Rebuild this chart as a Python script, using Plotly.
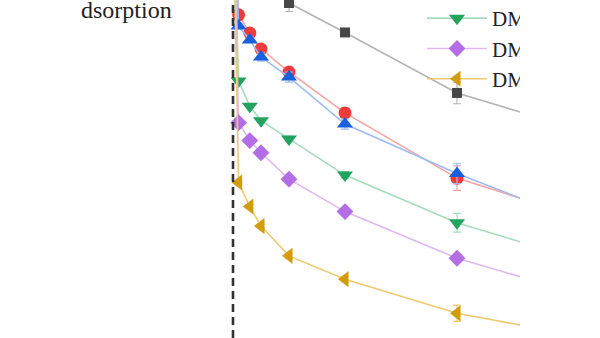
import plotly.graph_objects as go

# Desorption time (h); t = 0 marks the switch from adsorption to desorption
time_h = [0, 0.1, 0.3, 0.5, 1, 2, 4, 6]

series_names = ["DM", "DM", "DM", "DM", "DM", "DM"]

black_vals = [130, 115, 110, 106, 99.1, 90.4, 72.5, 62.5]
red_vals = [130, 95.6, 90.2, 85.5, 78.7, 66.6, 47.3, 36.8]
blue_vals = [130, 92.3, 88.2, 83.1, 77.2, 63.3, 48.7, 35.7]
green_vals = [130, 76.0, 68.6, 64.3, 58.9, 48.2, 34.1, 24.1]
purple_vals = [130, 63.7, 58.4, 54.8, 47.0, 37.4, 23.6, 13.9]
orange_vals = [130, 46.0, 38.9, 33.1, 24.3, 17.4, 7.3, 1.2]

black_err = [0, 0.5, 0.5, 0.5, 2.5, 1.0, 3.2, 1.5]
red_err = [0, 0.8, 0.8, 1.0, 1.2, 1.5, 3.6, 1.5]
blue_err = [0, 0.8, 0.8, 1.2, 1.5, 1.5, 3.0, 1.5]
green_err = [0, 0.5, 0.5, 0.5, 0.8, 1.0, 2.8, 1.5]
purple_err = [0, 0.5, 0.5, 0.5, 1.0, 1.0, 1.0, 1.0]
orange_err = [0, 0.5, 0.5, 0.5, 0.8, 0.8, 2.4, 1.0]

phase_label = "dsorption"

W, H = 520, 338
SERIF = "Liberation Serif, Times New Roman, serif"

styles = [
    (black_vals, black_err, "#474747", "#b4b4b4", "square", 10, False),
    (red_vals, red_err, "#ee3b3b", "#f6a3a3", "circle", 13, False),
    (blue_vals, blue_err, "#1a5fdc", "#9dbdf2", "triangle-up", 14, False),
    (green_vals, green_err, "#22a35f", "#a5dcbc", "triangle-down", 14, True),
    (purple_vals, purple_err, "#b36ee6", "#ddb8f3", "diamond", 13, True),
    (orange_vals, orange_err, "#d39c0a", "#edca70", "triangle-left", 14, True),
]

fig = go.Figure()
for name, (vals, err, mcol, lcol, sym, size, show) in zip(series_names, styles):
    fig.add_trace(go.Scatter(
        x=time_h, y=vals, name=name, mode="lines+markers",
        line=dict(color=lcol, width=1.6),
        marker=dict(symbol=sym, size=size, color=mcol, line=dict(width=0)),
        error_y=dict(type="data", array=err, color=lcol, thickness=1.2, width=4),
        showlegend=show,
    ))

fig.add_shape(type="line", x0=0, x1=0, xref="x", y0=0, y1=1, yref="paper",
              line=dict(color="#333333", width=2.6, dash="8px,5px"))

fig.add_annotation(text=phase_label, xref="paper", yref="paper",
                   x=79 / W, y=1 + 5 / H, xanchor="left", yanchor="top",
                   showarrow=False,
                   font=dict(family=SERIF, size=24, color="#222222"))

fig.update_layout(
    width=W, height=H,
    margin=dict(l=0, r=0, t=0, b=0, autoexpand=False),
    paper_bgcolor="white", plot_bgcolor="white",
    font=dict(family=SERIF),
    xaxis=dict(range=[-233 / 56, (W - 233) / 56], visible=False),
    yaxis=dict(range=[0, 100], visible=False),
    legend=dict(x=422 / W, y=1 + 2 / H, xanchor="left", yanchor="top",
                bgcolor="rgba(0,0,0,0)", itemwidth=60,
                font=dict(family=SERIF, size=21, color="#222222"),
                tracegroupgap=0),
)

fig.write_html("out.html")
